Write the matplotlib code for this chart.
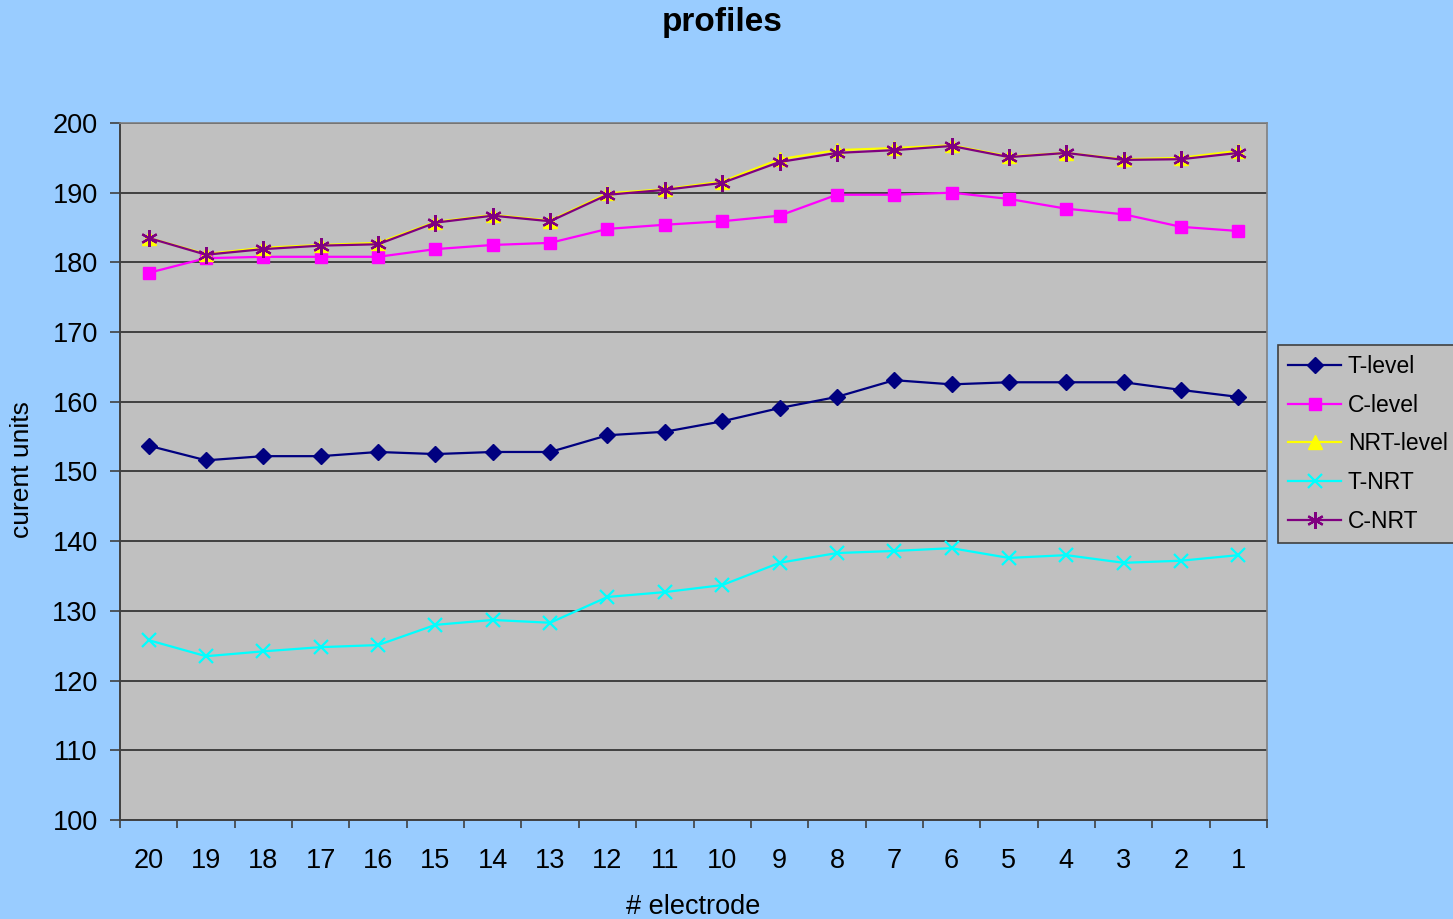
import matplotlib.pyplot as plt
import numpy as np

plt.rcParams['font.family'] = ['Liberation Sans', 'DejaVu Sans']

# electrode numbers, shown from 20 down to 1
electrodes = [20, 19, 18, 17, 16, 15, 14, 13, 12, 11, 10, 9, 8, 7, 6, 5, 4, 3, 2, 1]

t_level = [153.7, 151.6, 152.2, 152.2, 152.8, 152.5, 152.8, 152.8, 155.2, 155.7,
           157.2, 159.1, 160.7, 163.1, 162.5, 162.8, 162.8, 162.8, 161.7, 160.7]
c_level = [178.5, 180.6, 180.8, 180.8, 180.8, 181.9, 182.5, 182.8, 184.8, 185.4,
           185.9, 186.7, 189.7, 189.7, 190.0, 189.1, 187.7, 186.9, 185.1, 184.5]
nrt_level = [183.5, 181.2, 182.1, 182.5, 182.8, 185.8, 186.8, 186.0, 189.9, 190.5,
             191.6, 194.8, 196.1, 196.4, 196.8, 195.2, 195.7, 194.8, 195.0, 196.0]
t_nrt = [125.8, 123.5, 124.2, 124.8, 125.1, 128.0, 128.7, 128.3, 132.0, 132.7,
         133.7, 136.9, 138.3, 138.6, 139.0, 137.6, 138.0, 136.9, 137.2, 138.0]
c_nrt = [183.5, 181.1, 181.9, 182.4, 182.6, 185.7, 186.7, 185.9, 189.7, 190.4,
         191.4, 194.4, 195.7, 196.1, 196.7, 195.1, 195.7, 194.7, 194.8, 195.7]

fig = plt.figure(figsize=(14.53, 9.19), dpi=100)
fig.patch.set_facecolor('#99CCFF')
ax = fig.add_axes([0.0826, 0.1077, 0.7894, 0.7585])
ax.set_facecolor('#C0C0C0')

x = np.arange(len(electrodes))
ax.plot(x, t_level, color='#000080', marker='D', markersize=8, lw=1.6, label='T-level')
ax.plot(x, c_level, color='#FF00FF', marker='s', markersize=9, lw=1.6, label='C-level')
ax.plot(x, nrt_level, color='#FFFF00', marker='^', markersize=10, lw=1.6, label='NRT-level')
ax.plot(x, t_nrt, color='#00FFFF', marker='x', markersize=10, mew=1.6, lw=1.6, label='T-NRT')
ax.plot(x, c_nrt, color='#800080', marker=(6, 2, 0), markersize=12, mew=1.6, lw=1.6, label='C-NRT')

ax.set_xlim(-0.5, len(electrodes) - 0.5)
ax.set_ylim(100, 200)
ax.set_yticks(range(100, 201, 10))
ax.set_xticks(x)
ax.set_xticklabels([str(e) for e in electrodes])
ax.set_xticks(np.arange(-0.5, len(electrodes), 1.0), minor=True)
ax.tick_params(axis='x', which='major', length=0, pad=20, labelsize=19.5)
ax.tick_params(axis='x', which='minor', length=6, width=1.2, color='#404040', direction='out')
ax.tick_params(axis='y', length=7, width=1.2, color='#404040', labelsize=19.5, pad=9)

ax.yaxis.grid(True, color='#404040', lw=1.4)
ax.set_axisbelow(True)
for side in ['left', 'bottom']:
    ax.spines[side].set_color('#404040')
    ax.spines[side].set_linewidth(1.4)
for side in ['top', 'right']:
    ax.spines[side].set_color('#808080')
    ax.spines[side].set_linewidth(1.2)

fig.text(22 / 1453, 1 - 470 / 919, 'curent units', fontsize=19, rotation=90, ha='center', va='center')
fig.text(693 / 1453, 1 - 907 / 919, '# electrode', fontsize=19.5, ha='center', va='center')
fig.text(722 / 1453, 1 - 23 / 919, 'profiles', fontsize=24, fontweight='bold', ha='center', va='center')

leg = ax.legend(loc='upper left', bbox_to_anchor=(1278 / 1453, 1 - 345 / 919), bbox_transform=fig.transFigure,
                borderaxespad=0, fontsize=16.5, frameon=True, fancybox=False,
                handlelength=2.3, labelspacing=0.68, handletextpad=0.3, borderpad=0.45)
leg.get_frame().set_facecolor('#C0C0C0')
leg.get_frame().set_edgecolor('#404040')
leg.get_frame().set_linewidth(1.2)
leg.get_frame().set_alpha(1)

fig.savefig('out.png', dpi=100, facecolor=fig.get_facecolor())
